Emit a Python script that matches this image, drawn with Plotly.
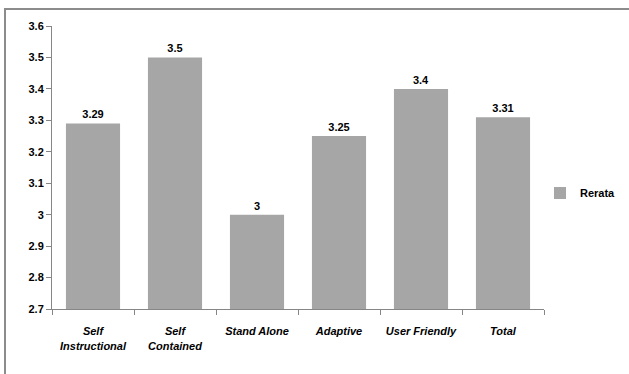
import plotly.graph_objects as go

categories = ["Self<br>Instructional", "Self<br>Contained", "Stand Alone", "Adaptive", "User Friendly", "Total"]
values = [3.29, 3.5, 3.0, 3.25, 3.4, 3.31]
value_labels = ["3.29", "3.5", "3", "3.25", "3.4", "3.31"]
series_name = "Rerata"
y_ticks = [2.7, 2.8, 2.9, 3.0, 3.1, 3.2, 3.3, 3.4, 3.5, 3.6]
y_tick_text = ["2.7", "2.8", "2.9", "3", "3.1", "3.2", "3.3", "3.4", "3.5", "3.6"]

W, H = 629, 374
L, R, T, B = 52, 85, 26, 65
pw = W - L - R
ph = H - T - B

fig = go.Figure()
fig.add_trace(go.Bar(
    x=categories, y=values, name=series_name,
    marker=dict(color="#a6a6a6", line=dict(width=0)),
    text=value_labels, textposition="outside",
    textfont=dict(family="Liberation Sans", size=11, color="#000000", weight="bold"),
    cliponaxis=False, showlegend=True,
))

def px_x(p):
    return (p - L) / pw

def px_y(p):
    return (H - B - p) / ph

fig.update_layout(
    width=W, height=H,
    margin=dict(l=L, r=R, t=T, b=B, autoexpand=False),
    plot_bgcolor="white", paper_bgcolor="white",
    bargap=0.34,
    font=dict(family="Liberation Sans", size=11, color="#000000"),
    showlegend=True,
    legend=dict(x=px_x(540), y=px_y(193), xanchor="left", yanchor="middle",
                font=dict(family="Liberation Sans", size=11, color="#000000", weight="bold"),
                bgcolor="rgba(0,0,0,0)"),
    xaxis=dict(
        showline=True, linecolor="#868686", linewidth=1,
        ticks="outside", ticklen=5, tickcolor="#868686", tickson="boundaries",
        tickangle=0, automargin=False, ticklabelstandoff=12,
        tickfont=dict(family="Liberation Sans", size=11, color="#000000", weight="bold", style="italic"),
        showgrid=False,
    ),
    yaxis=dict(
        range=[2.7, 3.6], tickvals=y_ticks, ticktext=y_tick_text,
        showline=True, linecolor="#868686", linewidth=1,
        ticks="outside", ticklen=5, tickcolor="#868686", automargin=False,
        tickfont=dict(family="Liberation Sans", size=11, color="#000000", weight="bold"),
        showgrid=False, zeroline=False,
    ),
    shapes=[dict(type="rect", xref="paper", yref="paper",
                 x0=px_x(5), x1=px_x(640), y0=px_y(390), y1=px_y(9),
                 line=dict(color="#8c8c8c", width=2), layer="below")],
)

fig.write_html("out.html")
